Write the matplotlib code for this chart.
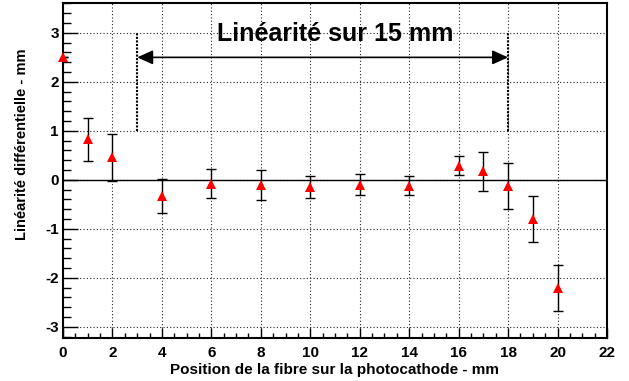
import matplotlib
matplotlib.use("Agg")
import matplotlib.pyplot as plt
from matplotlib.ticker import MultipleLocator

plt.rcParams['font.family'] = ['Liberation Sans', 'DejaVu Sans']
plt.rcParams['font.weight'] = 'bold'
plt.rcParams['axes.unicode_minus'] = False

# Data
positions = [0, 1, 2, 4, 6, 8, 10, 12, 14, 16, 17, 18, 19, 20]
linearity = [2.50, 0.83, 0.46, -0.33, -0.08, -0.10, -0.15, -0.10, -0.12, 0.29, 0.17, -0.12, -0.80, -2.21]
errors = [0.0, 0.44, 0.48, 0.35, 0.30, 0.31, 0.23, 0.22, 0.19, 0.19, 0.40, 0.47, 0.47, 0.47]
x_ticks = [0, 2, 4, 6, 8, 10, 12, 14, 16, 18, 20, 22]
y_ticks = [-3, -2, -1, 0, 1, 2, 3]
range_start, range_end = 3, 18
range_label = "Linéarité sur 15 mm"
xlabel = "Position de la fibre sur la photocathode - mm"
ylabel = "Linéarité différentielle - mm"

W, H = 629, 381
fig = plt.figure(figsize=(W / 100, H / 100), dpi=100)
ax = fig.add_axes([63 / W, (H - 338) / H, (607 - 63) / W, (338 - 3) / H])

ax.set_xlim(0, 22)
ax.set_ylim(-3.23, 3.61)

# grid
for xv in x_ticks:
    ax.axvline(xv, color='#222222', lw=0.8, ls=(0, (1, 2)), zorder=1)
for yv in y_ticks:
    ax.axhline(yv, color='#222222', lw=0.8, ls=(0, (1, 2)), zorder=1)
ax.axhline(0, color='black', lw=1.0, zorder=2)

ax.errorbar(positions, linearity, yerr=errors, fmt='none', ecolor='black',
            elinewidth=1.0, capsize=3.5, capthick=1.0, zorder=3)
ax.plot(positions, linearity, ls='none', marker='^', color='#ff0000',
        markersize=7, markeredgewidth=0, zorder=8, clip_on=False)

# range annotation
ax.plot([range_start, range_start], [1, 3], color='black', lw=1.5,
        ls=(0, (1.0, 0.7)), zorder=3)
ax.plot([range_end, range_end], [1, 3], color='black', lw=1.5,
        ls=(0, (1.0, 0.7)), zorder=3)
ax.annotate('', xy=(range_start, 2.5), xytext=(range_end, 2.5),
            arrowprops=dict(arrowstyle='<|-|>,head_length=0.95,head_width=0.43',
                            mutation_scale=10, color='black', lw=1.2,
                            shrinkA=0, shrinkB=0), zorder=4)
ax.text(11.0, 2.97, range_label, ha='center', va='center', fontsize=18,
        fontweight='bold', zorder=5)

ax.set_xticks(x_ticks)
ax.set_yticks(y_ticks)
ax.xaxis.set_minor_locator(MultipleLocator(0.5))
ax.yaxis.set_minor_locator(MultipleLocator(0.2))
ax.tick_params(axis='x', which='major', direction='in', length=7.5, width=1,
               pad=6, labelsize=11, top=False)
ax.tick_params(axis='x', which='minor', direction='in', length=3.6, width=1, top=False)
ax.tick_params(axis='y', which='major', direction='in', length=11, width=1,
               pad=3, labelsize=11, right=False)
ax.tick_params(axis='y', which='minor', direction='in', length=5.5, width=1, right=False)
for lab in ax.get_xticklabels() + ax.get_yticklabels():
    lab.set_fontweight('bold')

for sp in ax.spines.values():
    sp.set_linewidth(1.5)
    sp.set_zorder(6)

fig.text(335 / W, 1 - 370 / H, xlabel, ha='center', va='center',
         fontsize=11, fontweight='bold')
fig.text(22 / W, 1 - 48 / H, ylabel, ha='center', va='top', rotation=90,
         fontsize=10.5, fontweight='bold')

fig.savefig('out.png', dpi=100, facecolor='white')
